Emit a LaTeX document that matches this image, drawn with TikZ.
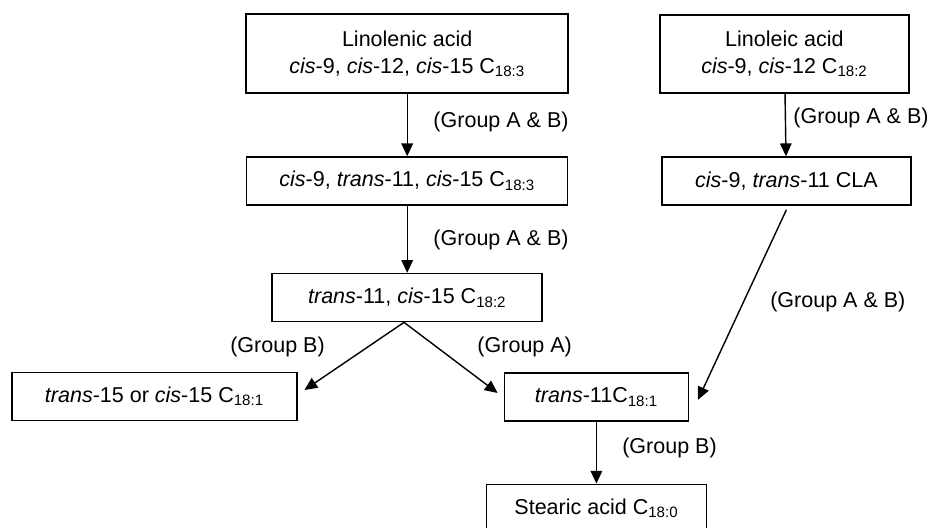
\documentclass[tikz,border=0pt]{standalone}
\usepackage{fontspec}
\setmainfont{Liberation Sans}
\usetikzlibrary{arrows.meta,positioning}
\newcommand{\Cx}[1]{C\textsubscript{#1}}

\begin{document}
\begin{tikzpicture}[>={Triangle[length=3.2mm,width=2.9mm]},
  acid/.style={draw,line width=1.1pt,minimum height=1.2cm,align=center,
    inner sep=2pt,font=\fontsize{15.3}{19.2}\selectfont},
  grp/.style={anchor=west,inner sep=0pt,font=\fontsize{15.3}{18}\selectfont},
  flow/.style={->,line width=1pt}]
\useasboundingbox (0,0) rectangle (23.2,-13.2);

\node[acid,minimum width=8.05cm,minimum height=1.975cm] (lnn) at (10.18,-1.34)
  {Linolenic acid\\\textit{cis}-9, \textit{cis}-12, \textit{cis}-15 \Cx{18:3}};
\node[acid,minimum width=6.225cm,minimum height=1.95cm] (lnl) at (19.61,-1.35)
  {Linoleic acid\\\textit{cis}-9, \textit{cis}-12 \Cx{18:2}};
\node[acid,minimum width=8.025cm] (c9t11) at (10.18,-4.525)
  {\textit{cis}-9, \textit{trans}-11, \textit{cis}-15 \Cx{18:3}};
\node[acid,minimum width=6.225cm] (cla) at (19.66,-4.525)
  {\textit{cis}-9, \textit{trans}-11 CLA};
\node[acid,minimum width=6.75cm] (t11c15) at (10.18,-7.44)
  {\textit{trans}-11, \textit{cis}-15 \Cx{18:2}};
\node[acid,minimum width=7.125cm] (t15) at (3.86,-9.91)
  {\textit{trans}-15 or \textit{cis}-15 \Cx{18:1}};
\node[acid,minimum width=4.6cm] (t11) at (14.91,-9.925)
  {\textit{trans}-11\Cx{18:1}};
\node[acid,minimum width=5.5cm] (sta) at (14.91,-12.71)
  {Stearic acid \Cx{18:0}};

% enzyme groups
\node[grp] (g1) at (10.83,-3.05) {(Group A \& B)};
\node[grp] (g2) at (19.83,-2.95) {(Group A \& B)};
\node[grp] (g3) at (10.83,-6.0) {(Group A \& B)};
\node[grp] (g4) at (19.25,-7.55) {(Group A \& B)};
\node[grp] (g5) at (5.75,-8.675) {(Group B)};
\node[grp] (g6) at (11.93,-8.675) {(Group A)};
\node[grp] (g7) at (15.55,-11.2) {(Group B)};

\draw[flow] (lnn) -- (c9t11);
\draw[flow] (lnl) -- (cla);
\draw[flow] (c9t11) -- (t11c15);
\draw[flow] ([xshift=-0.08cm]t11c15.south) -- ([xshift=0.17cm,yshift=0.16cm]t15.east);
\draw[flow] ([xshift=-0.08cm]t11c15.south) -- ([xshift=-0.15cm,yshift=0.1cm]t11.west);
\draw[flow] ([yshift=-0.1cm]cla.south) -- ([xshift=0.22cm,yshift=-0.07cm]t11.east);
\draw[flow] (t11) -- (sta);
\end{tikzpicture}
\end{document}
